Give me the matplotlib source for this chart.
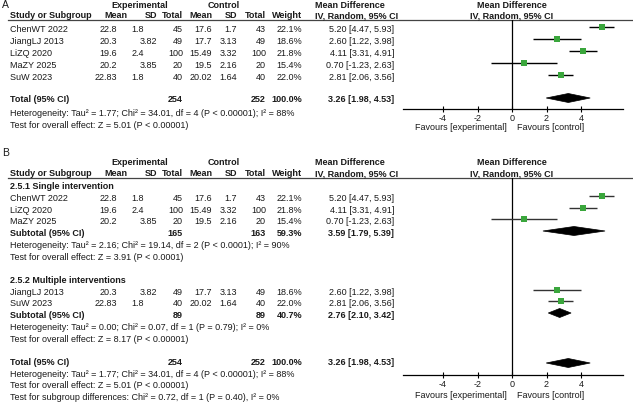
"""
    Forest plot (RevMan style), two panels A and B
"""

import matplotlib
matplotlib.use("Agg")
import matplotlib.pyplot as plt
from matplotlib.patches import Polygon

plt.rcParams['font.family'] = ['Liberation Sans', 'DejaVu Sans']
plt.rcParams['axes.unicode_minus'] = False

# --- data -------------------------------------------------------------
studies = ["ChenWT 2022", "JiangLJ 2013", "LiZQ 2020", "MaZY 2025", "SuW 2023"]
exp_mean = [22.8, 20.3, 19.6, 20.2, 22.83]
exp_sd = [1.8, 3.82, 2.4, 3.85, 1.8]
exp_n = [45, 49, 100, 20, 40]
ctl_mean = [17.6, 17.7, 15.49, 19.5, 20.02]
ctl_sd = [1.7, 3.13, 3.32, 2.16, 1.64]
ctl_n = [43, 49, 100, 20, 40]
weight = [22.1, 18.6, 21.8, 15.4, 22.0]
md = [5.20, 2.60, 4.11, 0.70, 2.81]
ci_lo = [4.47, 1.22, 3.31, -1.23, 2.06]
ci_hi = [5.93, 3.98, 4.91, 2.63, 3.56]

# subgroups (indices into the study lists)
sub_titles = ["2.5.1 Single intervention", "2.5.2 Multiple interventions"]
sub_members = [[0, 2, 3], [1, 4]]
sub_exp_n = [165, 89]
sub_ctl_n = [163, 89]
sub_weight = [59.3, 40.7]
sub_md = [3.59, 2.76]
sub_lo = [1.79, 2.10]
sub_hi = [5.39, 3.42]
sub_het = ["Heterogeneity: Tau² = 2.16; Chi² = 19.14, df = 2 (P < 0.0001); I² = 90%",
           "Heterogeneity: Tau² = 0.00; Chi² = 0.07, df = 1 (P = 0.79); I² = 0%"]
sub_test = ["Test for overall effect: Z = 3.91 (P < 0.0001)",
            "Test for overall effect: Z = 8.17 (P < 0.00001)"]

tot_exp_n, tot_ctl_n, tot_weight = 254, 252, 100.0
tot_md, tot_lo, tot_hi = 3.26, 1.98, 4.53
tot_het = "Heterogeneity: Tau² = 1.77; Chi² = 34.01, df = 4 (P < 0.00001); I² = 88%"
tot_test = "Test for overall effect: Z = 5.01 (P < 0.00001)"
subgroup_diff = "Test for subgroup differences: Chi² = 0.72, df = 1 (P = 0.40), I² = 0%"

hdr_cols = ["Mean", "SD", "Total", "Mean", "SD", "Total", "Weight"]
ticks = [-4, -2, 0, 2, 4]

# --- layout (pixels) --------------------------------------------------
W, H = 633, 410
FS = 6.5
TXT = '#1a1a1a'
GREEN = '#3aa63c'
X_NAME = 10
X_MEAN_E, X_SD_E, X_N_E = 117, 157, 183
X_MEAN_C, X_SD_C, X_N_C = 212, 237, 266
X_W, X_CI = 302, 394
HDR_RIGHT = [127, 157, 183, 212, 237, 266, 302]
PLOT_L, PLOT_R, X_ZERO = 403, 623, 512
XLIM = (-6.32, 6.43)

fig = plt.figure(figsize=(W / 100, H / 100), dpi=100)
bg = fig.add_axes([0, 0, 1, 1])
bg.set_xlim(0, W)
bg.set_ylim(H, 0)
bg.axis('off')


def txt(x, y, s, ha='left', bold=False, size=FS):
    bg.text(x, y, s, ha=ha, va='center', fontsize=size, color=TXT,
            fontweight='bold' if bold else 'normal')


def header(y1, y2, yline):
    txt(139.5, y1, "Experimental", ha='center', bold=True)
    txt(224, y1, "Control", ha='center', bold=True)
    txt(350, y1, "Mean Difference", ha='center', bold=True)
    txt(X_ZERO, y1, "Mean Difference", ha='center', bold=True)
    txt(X_NAME, y2, "Study or Subgroup", bold=True)
    for lab, xr in zip(hdr_cols, HDR_RIGHT):
        txt(xr, y2, lab, ha='right', bold=True)
    txt(357, y2, "IV, Random, 95% CI", ha='center', bold=True)
    txt(X_ZERO, y2, "IV, Random, 95% CI", ha='center', bold=True)
    bg.plot([8, 632], [yline, yline], color='#444444', lw=0.9)


def study_row(i, y):
    txt(X_NAME, y, studies[i])
    txt(X_MEAN_E, y, f"{exp_mean[i]:g}", ha='right')
    sd = f"{exp_sd[i]:g}"
    # one-decimal SDs sit further left in the source table
    txt(X_SD_E - (13 if len(sd.split('.')[-1]) == 1 else 0), y, sd, ha='right')
    txt(X_N_E, y, str(exp_n[i]), ha='right')
    txt(X_MEAN_C, y, f"{ctl_mean[i]:g}", ha='right')
    txt(X_SD_C, y, f"{ctl_sd[i]:g}", ha='right')
    txt(X_N_C, y, str(ctl_n[i]), ha='right')
    txt(X_W, y, f"{weight[i]:.1f}%", ha='right')
    txt(X_CI, y, f"{md[i]:.2f} [{ci_lo[i]:.2f}, {ci_hi[i]:.2f}]", ha='right')


def pooled_row(label, y, ne, nc, w, m, lo, hi):
    txt(X_NAME, y, label, bold=True)
    txt(X_N_E, y, str(ne), ha='right', bold=True)
    txt(X_N_C, y, str(nc), ha='right', bold=True)
    txt(X_W, y, f"{w:.1f}%", ha='right', bold=True)
    txt(X_CI, y, f"{m:.2f} [{lo:.2f}, {hi:.2f}]", ha='right', bold=True)


def forest_axes(top, axis_y, fav_y):
    ax = fig.add_axes([PLOT_L / W, 1 - axis_y / H,
                       (PLOT_R - PLOT_L) / W, (axis_y - top) / H])
    ax.set_xlim(*XLIM)
    ax.set_ylim(axis_y, top)
    ax.patch.set_visible(False)
    for s in ['top', 'left', 'right']:
        ax.spines[s].set_visible(False)
    ax.spines['bottom'].set_linewidth(0.9)
    ax.set_yticks([])
    ax.set_xticks(ticks)
    ax.set_xticklabels([str(t) for t in ticks])
    ax.tick_params(axis='x', labelsize=FS, length=4, width=0.8,
                   direction='inout', pad=1, labelcolor=TXT)
    ax.axvline(0, color='k', lw=0.9)
    txt(507, fav_y, "Favours [experimental]", ha='right')
    txt(517, fav_y, "Favours [control]")
    return ax


def square(ax, i, y, lc='k'):
    ax.hlines(y, ci_lo[i], ci_hi[i], color=lc, lw=1.0)
    ax.scatter([md[i]], [y], marker='s', s=(2.8 + 0.06 * weight[i]) ** 2,
               color=GREEN, linewidths=0, zorder=3)


def diamond(ax, y, m, lo, hi, h=4.5):
    ax.add_patch(Polygon([[lo, y], [m, y - h], [hi, y], [m, y + h]],
                         closed=True, fc='k', ec='k', lw=0.5))


# --- panel A ----------------------------------------------------------
txt(2, 5, "A", size=7.5)
header(5, 16, 20.5)
rows_a = [30, 42, 54, 66, 78]
for i, y in enumerate(rows_a):
    study_row(i, y)
pooled_row("Total (95% CI)", 100, tot_exp_n, tot_ctl_n, tot_weight,
           tot_md, tot_lo, tot_hi)
txt(X_NAME, 113, tot_het)
txt(X_NAME, 125, tot_test)

ax_a = forest_axes(20.5, 110, 128)
for i, y in enumerate(rows_a):
    square(ax_a, i, y - 2)
diamond(ax_a, 99, tot_md, tot_lo, tot_hi)

# --- panel B ----------------------------------------------------------
txt(2, 153, "B", size=7.5)
header(163, 174, 178.5)
ax_b = forest_axes(178.5, 376, 396)

sub_y = [187, 280.5]
study_rows_b = [[199, 210.5, 222], [292.5, 304]]
subtotal_y = [234, 316]
for g in range(2):
    txt(X_NAME, sub_y[g], sub_titles[g], bold=True)
    for i, y in zip(sub_members[g], study_rows_b[g]):
        study_row(i, y)
        square(ax_b, i, y - 2, lc='#333333')
    ys = subtotal_y[g]
    pooled_row("Subtotal (95% CI)", ys, sub_exp_n[g], sub_ctl_n[g],
               sub_weight[g], sub_md[g], sub_lo[g], sub_hi[g])
    diamond(ax_b, ys - 2, sub_md[g], sub_lo[g], sub_hi[g])
    txt(X_NAME, ys + 12, sub_het[g])
    txt(X_NAME, ys + 23.5, sub_test[g])

pooled_row("Total (95% CI)", 362.5, tot_exp_n, tot_ctl_n, tot_weight,
           tot_md, tot_lo, tot_hi)
diamond(ax_b, 364, tot_md, tot_lo, tot_hi)
txt(X_NAME, 374.5, tot_het)
txt(X_NAME, 386, tot_test)
txt(X_NAME, 397.5, subgroup_diff)

fig.savefig("out.png", dpi=100)
